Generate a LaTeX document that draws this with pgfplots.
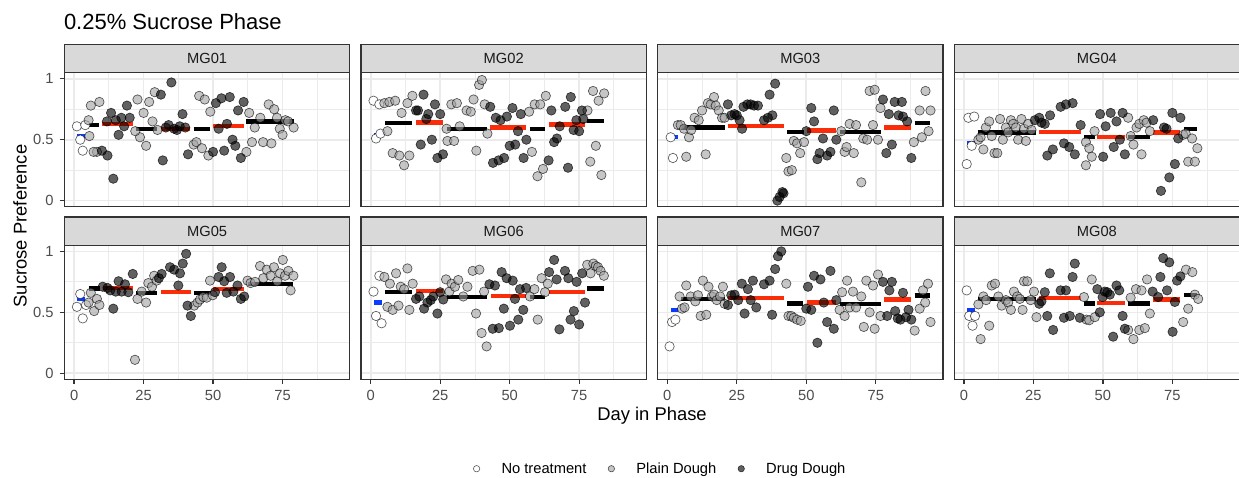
\documentclass[border=0pt]{standalone}
\usepackage{fontspec}
\setmainfont{Liberation Sans}
\usepackage{pgfplots}
\pgfplotsset{compat=1.18}
\definecolor{g10}{HTML}{1A1A1A}
\definecolor{g20}{HTML}{333333}
\definecolor{g30}{HTML}{4D4D4D}
\definecolor{g85}{HTML}{D9D9D9}
\definecolor{g92}{HTML}{EBEBEB}
\definecolor{segred}{HTML}{FA2D0A}
\definecolor{segblue}{HTML}{0A3CFF}
\definecolor{plainfill}{HTML}{A0A0A0}
\pgfplotsset{
 panel/.style={
  scale only axis, width=285.4bp, height=134bp,
  xmin=-3.5, xmax=99.2, ymin=-0.05, ymax=1.05,
  xtick={0,25,50,75}, ytick={0,0.5,1},
  minor xtick={12.5,37.5,62.5,87.5}, minor ytick={0.25,0.75},
  grid=both,
  major grid style={draw=g92, line width=1.6bp},
  minor grid style={draw=g92, line width=0.8bp},
  axis line style={draw=g20, line width=1.3bp},
  tick align=outside, tick pos=left,
  major tick length=4.6bp, minor tick length=0pt,
  xticklabels={}, yticklabels={},
  xtick style={draw=none}, ytick style={draw=none},
  /pgf/number format/assume math mode=true,
  ticklabel style={font=\fontsize{14.7bp}{17bp}\selectfont, text=g30},
  xticklabel style={anchor=north, inner sep=0pt, yshift=-6.3bp},
  yticklabel style={anchor=east, inner sep=0pt, xshift=-6.0bp},
  legend image code/.code={\draw[#1] plot coordinates {(0bp,0bp)};},
 },
 xlab/.style={xticklabels={0,25,50,75}, xtick style={draw=g20, line width=1.3bp}},
 ylab/.style={yticklabels={0,0.5,1}, ytick style={draw=g20, line width=1.3bp}},
 nt/.style={only marks, mark=*, mark size=4.7bp, mark options={draw=black, draw opacity=0.65, fill=white, line width=0.65bp}},
 pd/.style={only marks, mark=*, mark size=4.7bp, mark options={draw=black, draw opacity=0.65, fill=plainfill, fill opacity=0.6, line width=0.65bp}},
 dd/.style={only marks, mark=*, mark size=4.7bp, mark options={draw=black, draw opacity=0.7, fill=black, fill opacity=0.62, line width=0.65bp}},
}
\newcommand{\pts}[2]{\addplot[#1, forget plot] coordinates {#2};}
\newcommand{\seg}[4]{\addplot[draw=#1, line width=4.3bp, line cap=butt, no marks, forget plot] coordinates {(#2,#4) (#3,#4)};}
\newcommand{\strip}[2]{%
 \draw[fill=g85, draw=g20, line width=1.3bp] (#1.north west) rectangle ([yshift=28.4bp]#1.north east);
 \node[font=\fontsize{14.7bp}{17bp}\selectfont, text=g10] at ([yshift=14.2bp]#1.north) {#2};}
\begin{document}
\begin{tikzpicture}
\useasboundingbox (0,0) rectangle (1239bp,-478bp);
% ---------------- MG01
\begin{axis}[panel, ylab, at={(64.4bp,-206.7bp)}, anchor=south west, name=p1]
\pts{nt}{(1.0,0.61) (4.0,0.62) (2.2,0.50) (3.1,0.41)}
\pts{pd}{(5.2,0.66) (6.0,0.78) (9.1,0.81) (5.5,0.53) (8.2,0.40) (7,0.40) (22.8,0.83) (25,0.72) (27,0.81) (29,0.89) (28.2,0.65) (23.7,0.52) (25.9,0.45) (22,0.57) (30,0.58) (43,0.46) (44,0.48) (45,0.86) (47,0.83) (46,0.43) (48.3,0.37) (49,0.73) (62,0.40) (63,0.72) (64,0.48) (65,0.60) (67,0.68) (68,0.48) (70,0.79) (71,0.47) (72,0.75) (73,0.68) (74,0.59) (75,0.54) (76,0.66) (77,0.65) (79,0.60)}
\pts{dd}{(10,0.41) (12,0.37) (14.1,0.18) (13.3,0.72) (11.8,0.65) (16,0.54) (19,0.78) (18,0.61) (20,0.68) (17,0.68) (15,0.66) (31.2,0.87) (35,0.97) (31.9,0.33) (39,0.71) (38,0.61) (37,0.58) (33,0.60) (41,0.38) (34,0.62) (36,0.59) (40,0.60) (50,0.40) (51,0.80) (53,0.84) (56,0.85) (52,0.59) (55,0.63) (54,0.41) (57,0.50) (58,0.45) (59,0.74) (61,0.81) (60,0.35)}
\seg{segblue}{1.2}{4.0}{0.53}
\seg{black}{5.2}{9.0}{0.62}
\seg{segred}{10}{21.1}{0.63}
\seg{black}{22.3}{29.7}{0.585}
\seg{segred}{31.2}{41.7}{0.59}
\seg{black}{43}{49}{0.585}
\seg{segred}{50}{61}{0.615}
\seg{black}{62}{79}{0.65}
\end{axis}
% ---------------- MG02
\begin{axis}[panel, at={(361.0bp,-206.7bp)}, anchor=south west, name=p2]
\pts{nt}{(1,0.82) (3.1,0.79) (1.9,0.51) (3.5,0.55)}
\pts{pd}{(4.9,0.80) (6.7,0.81) (8.8,0.82) (6,0.57) (7.9,0.39) (10.3,0.37) (12,0.29) (13.9,0.37) (11.1,0.72) (13.2,0.80) (15,0.86) (27.3,0.59) (29,0.79) (31,0.80) (32,0.61) (27.6,0.49) (30,0.49) (34.5,0.74) (36,0.73) (37,0.83) (38,0.41) (39,0.95) (40,0.99) (41,0.79) (42,0.55) (57,0.73) (59,0.79) (61,0.79) (63,0.86) (58,0.40) (62,0.26) (60,0.20) (78,0.74) (80,0.90) (82,0.82) (84,0.88) (81,0.45) (79,0.32) (83,0.21)}
\pts{dd}{(16.3,0.74) (17,0.74) (19,0.87) (20.7,0.71) (20,0.67) (23.1,0.79) (25,0.71) (18,0.46) (22,0.50) (24,0.35) (26,0.38) (43,0.77) (45,0.68) (46.7,0.66) (49,0.69) (51,0.76) (54,0.71) (44,0.31) (46,0.33) (48,0.35) (50,0.45) (52,0.46) (53,0.57) (56,0.50) (55,0.35) (64,0.33) (65,0.74) (66,0.48) (67,0.51) (68,0.61) (70,0.77) (72,0.85) (71,0.27) (73,0.58) (74,0.66) (75,0.57) (76,0.74) (76.5,0.67)}
\seg{segblue}{1.2}{4.0}{0.54}
\seg{black}{5.1}{14.7}{0.635}
\seg{segred}{16.3}{26}{0.64}
\seg{black}{27.3}{41.7}{0.59}
\seg{segred}{43}{56}{0.60}
\seg{black}{57.3}{62.7}{0.59}
\seg{segred}{64.2}{77}{0.625}
\seg{black}{78}{84}{0.655}
\end{axis}
% ---------------- MG03
\begin{axis}[panel, at={(657.6bp,-206.7bp)}, anchor=south west, name=p3]
\pts{nt}{(1.2,0.52) (2,0.35)}
\pts{pd}{(3.8,0.62) (4.8,0.62) (6,0.59) (6.8,0.36) (7.8,0.52) (8.6,0.58) (9.8,0.68) (11.3,0.66) (12.5,0.74) (13.8,0.38) (14.6,0.80) (15.6,0.79) (16.8,0.85) (17.4,0.78) (18.5,0.74) (19.7,0.68) (20.6,0.68) (42.8,0.35) (43.6,0.24) (44.8,0.25) (45.5,0.49) (46.7,0.47) (47.8,0.39) (49.2,0.48) (62.6,0.57) (63.8,0.40) (64.5,0.44) (65.6,0.63) (67.1,0.39) (67.9,0.62) (69.8,0.15) (70.5,0.51) (71.9,0.50) (72.8,0.90) (74.6,0.91) (74,0.62) (75.8,0.50) (76.7,0.76) (88.7,0.48) (90.8,0.74) (91.6,0.52) (92.9,0.90) (94,0.57) (94.7,0.74)}
\pts{dd}{(21.8,0.79) (23,0.70) (24.2,0.71) (25,0.70) (26,0.66) (26.9,0.59) (27.4,0.77) (28.8,0.79) (30,0.79) (31.2,0.78) (32.6,0.78) (34.8,0.66) (36.2,0.68) (37.8,0.70) (36.8,0.87) (38.8,0.96) (39.6,0.00) (40.4,0.03) (41.4,0.07) (41.8,0.06) (50,0.57) (51.8,0.76) (52.8,0.65) (54,0.34) (54.8,0.39) (56,0.51) (57.5,0.37) (58.7,0.40) (59.9,0.74) (60.8,0.50) (77.6,0.83) (78.8,0.39) (79.7,0.71) (80.8,0.46) (81.8,0.81) (83.2,0.70) (84.4,0.81) (84.8,0.69) (86.3,0.65) (87.8,0.35)}
\seg{segblue}{1.2}{3.8}{0.52}
\seg{black}{5}{20.9}{0.60}
\seg{segred}{22}{42}{0.61}
\seg{black}{43.2}{49.2}{0.565}
\seg{segred}{50.1}{60.8}{0.575}
\seg{black}{62}{77}{0.565}
\seg{segred}{78}{87.8}{0.60}
\seg{black}{89}{94.7}{0.635}
\end{axis}
% ---------------- MG04
\begin{axis}[panel, at={(954.2bp,-206.7bp)}, anchor=south west, name=p4]
\pts{nt}{(1,0.30) (1.6,0.68) (3.7,0.69) (2.8,0.45)}
\pts{pd}{(5.2,0.50) (6,0.52) (7,0.42) (7.9,0.60) (9.1,0.65) (10,0.53) (11,0.39) (12,0.39) (13,0.67) (14,0.50) (15.1,0.60) (15.9,0.56) (16.9,0.66) (17.7,0.63) (18.7,0.60) (19.5,0.50) (20.7,0.67) (21.6,0.59) (22.3,0.49) (23.1,0.63) (24.3,0.58) (43.9,0.48) (45.1,0.43) (46,0.36) (47,0.57) (43.9,0.29) (59.1,0.68) (60,0.53) (61,0.46) (62.1,0.60) (63.1,0.63) (63.9,0.38) (64.7,0.66) (65.7,0.64) (66.9,0.57) (78.9,0.54) (79.8,0.55) (80.7,0.32) (82.1,0.51) (83.1,0.32) (84,0.43)}
\pts{dd}{(25.5,0.66) (27.1,0.68) (27.9,0.64) (29.1,0.63) (31,0.70) (30,0.37) (32,0.42) (34.8,0.77) (36,0.47) (36.7,0.79) (37.9,0.44) (39.1,0.80) (39.9,0.38) (42,0.62) (49,0.71) (50.1,0.36) (51,0.61) (52.8,0.72) (53.9,0.44) (54.9,0.65) (56.1,0.50) (57.1,0.72) (57.9,0.38) (68.1,0.66) (70.9,0.08) (72,0.60) (72.9,0.59) (73.9,0.19) (75,0.72) (75.9,0.30) (77.1,0.51) (77.9,0.68)}
\seg{segblue}{1.2}{4}{0.47}
\seg{black}{5.2}{25.9}{0.56}
\seg{segred}{27.1}{42}{0.565}
\seg{black}{43.2}{47.1}{0.52}
\seg{segred}{48}{57.9}{0.525}
\seg{black}{59.1}{66.9}{0.52}
\seg{segred}{68.1}{77.9}{0.56}
\seg{black}{79.1}{84}{0.59}
\end{axis}
% ---------------- MG05
\begin{axis}[panel, xlab, ylab, at={(64.4bp,-379.3bp)}, anchor=south west, name=p5]
\pts{nt}{(1,0.545) (2.2,0.65) (3.1,0.45) (4.3,0.56)}
\pts{pd}{(5.2,0.58) (6,0.66) (7.2,0.51) (8.2,0.61) (9.1,0.56) (21.9,0.11) (22.8,0.61) (24.3,0.67) (25.9,0.58) (26.7,0.74) (28,0.71) (28.8,0.80) (29.7,0.76) (43.2,0.555) (44.4,0.58) (45.3,0.605) (46.5,0.625) (47.7,0.62) (48.9,0.76) (49.9,0.64) (62.4,0.76) (63.5,0.74) (65.1,0.75) (66.9,0.88) (68.1,0.78) (69.3,0.85) (70.7,0.80) (71.9,0.87) (73.1,0.755) (74.1,0.82) (75.1,0.93) (75.9,0.80) (77.1,0.84) (77.9,0.68) (78.9,0.80)}
\pts{dd}{(10.3,0.71) (12,0.70) (14.1,0.53) (16,0.755) (17.1,0.67) (18.3,0.73) (19.5,0.665) (21.1,0.815) (13,0.68) (15,0.67) (31.5,0.815) (34.5,0.87) (36,0.85) (37.5,0.72) (38.1,0.82) (39.1,0.90) (40.3,0.98) (40.8,0.555) (42,0.47) (30.5,0.78) (50.7,0.665) (52,0.79) (53.1,0.87) (54,0.755) (54.9,0.66) (56.1,0.79) (57.3,0.67) (58.8,0.72) (60,0.61) (61.2,0.63)}
\seg{segblue}{1.2}{4}{0.61}
\seg{black}{5.2}{9.4}{0.695}
\seg{segred}{10.3}{21.1}{0.70}
\seg{black}{22.3}{29.7}{0.66}
\seg{segred}{31.2}{42}{0.667}
\seg{black}{43.2}{49.2}{0.66}
\seg{segred}{50.1}{61}{0.69}
\seg{black}{62.4}{78.9}{0.73}
\end{axis}
% ---------------- MG06
\begin{axis}[panel, xlab, at={(361.0bp,-379.3bp)}, anchor=south west, name=p6]
\pts{nt}{(1,0.67) (1.9,0.47) (3.1,0.80) (3.9,0.41)}
\pts{pd}{(4.9,0.79) (6,0.545) (6.9,0.735) (7.9,0.52) (9.1,0.82) (10,0.555) (10.8,0.71) (12,0.69) (13.2,0.86) (13.9,0.52) (15.1,0.735) (27.1,0.77) (28.3,0.67) (29.1,0.735) (30.3,0.71) (31.5,0.765) (33.3,0.63) (34.8,0.71) (36.7,0.84) (37.9,0.49) (39.1,0.85) (39.9,0.33) (40.8,0.67) (41.7,0.22) (57.3,0.63) (58.9,0.69) (60.1,0.44) (61.5,0.78) (62.7,0.665) (63.7,0.735) (77.9,0.89) (79.1,0.82) (80.1,0.90) (81,0.88) (81.8,0.87) (82.7,0.84) (83.9,0.80)}
\pts{dd}{(16.3,0.61) (17.5,0.63) (19.2,0.53) (20.4,0.58) (21.6,0.60) (22.5,0.63) (24,0.49) (25,0.665) (26.1,0.605) (42.7,0.73) (43.9,0.365) (44.7,0.72) (46.1,0.37) (47.1,0.83) (47.9,0.53) (48.9,0.78) (50.1,0.39) (51.1,0.76) (51.9,0.61) (53.1,0.44) (53.7,0.69) (54.9,0.52) (55.9,0.70) (64.2,0.83) (66,0.93) (66.9,0.77) (67.9,0.36) (69.9,0.84) (71.1,0.78) (71.9,0.44) (73.1,0.51) (74.1,0.75) (75,0.40) (76.1,0.82) (77.1,0.58)}
\seg{segblue}{1.2}{3.9}{0.58}
\seg{black}{5.1}{14.7}{0.665}
\seg{segred}{16.3}{25.9}{0.673}
\seg{black}{27.3}{41.7}{0.627}
\seg{segred}{43.2}{55.9}{0.632}
\seg{black}{57.3}{62.7}{0.627}
\seg{segred}{64.2}{77.1}{0.665}
\seg{black}{78}{83.9}{0.695}
\end{axis}
% ---------------- MG07
\begin{axis}[panel, xlab, at={(657.6bp,-379.3bp)}, anchor=south west, name=p7]
\pts{nt}{(0.8,0.22) (1.7,0.42) (2.9,0.44)}
\pts{pd}{(4.4,0.63) (5.3,0.53) (6.2,0.54) (6.8,0.72) (8.4,0.63) (10.1,0.59) (11,0.64) (12,0.47) (12.8,0.76) (14,0.48) (14.8,0.71) (16,0.63) (16.8,0.645) (17.8,0.60) (19,0.63) (20,0.71) (20.6,0.57) (42.8,0.735) (43.6,0.47) (44.6,0.47) (45.5,0.455) (46.7,0.44) (48,0.43) (62,0.52) (62.9,0.665) (63.8,0.47) (64.7,0.76) (65.6,0.54) (66.8,0.67) (67.9,0.54) (69.8,0.63) (70.7,0.38) (71.6,0.76) (72.8,0.50) (74,0.72) (74.6,0.365) (75.8,0.81) (76.7,0.47) (89,0.35) (90.8,0.53) (92,0.68) (92.8,0.58) (93.8,0.735) (94.7,0.42)}
\pts{dd}{(21.8,0.56) (23,0.64) (24.2,0.645) (25.5,0.60) (26.8,0.735) (27.8,0.49) (29,0.69) (30,0.60) (30.8,0.76) (32,0.54) (34.8,0.73) (36.8,0.76) (37.7,0.48) (38.8,0.855) (39.8,0.96) (41,1.0) (50,0.53) (50.6,0.71) (51.8,0.52) (52.8,0.80) (54,0.25) (55.1,0.77) (56.3,0.58) (57.5,0.42) (58.7,0.84) (59.9,0.365) (60.8,0.60) (77.6,0.75) (79.1,0.47) (79.9,0.68) (80.8,0.75) (82,0.51) (82.9,0.45) (83.9,0.44) (84.8,0.66) (85.9,0.46) (86.8,0.52) (87.8,0.44)}
\seg{segblue}{1.2}{3.8}{0.52}
\seg{black}{5}{20.9}{0.61}
\seg{segred}{22}{42}{0.615}
\seg{black}{43.2}{48.8}{0.572}
\seg{segred}{50.1}{60.8}{0.58}
\seg{black}{62}{77}{0.57}
\seg{segred}{78}{87.8}{0.605}
\seg{black}{89}{94.7}{0.638}
\end{axis}
% ---------------- MG08
\begin{axis}[panel, xlab, at={(954.2bp,-379.3bp)}, anchor=south west, name=p8,
  legend columns=3,
  legend style={at={(-1.6847,-0.6672)}, anchor=west, draw=none, fill=none, inner sep=0pt, outer sep=0pt,
    column sep=21.7bp, font=\fontsize{14.7bp}{17bp}\selectfont, text=black, nodes={inner sep=0pt}}]
\addlegendimage{only marks, mark=*, mark size=3.2bp, mark options={draw=black, draw opacity=0.65, fill=white, line width=0.6bp}}
\addlegendentry{No treatment}
\addlegendimage{only marks, mark=*, mark size=3.2bp, mark options={draw=black, draw opacity=0.65, fill=plainfill, fill opacity=0.6, line width=0.6bp}}
\addlegendentry{Plain Dough}
\addlegendimage{only marks, mark=*, mark size=3.2bp, mark options={draw=black, draw opacity=0.7, fill=black, fill opacity=0.62, line width=0.6bp}}
\addlegendentry{Drug Dough}
\pts{nt}{(1,0.68) (1.9,0.47) (3.1,0.39) (4,0.47)}
\pts{pd}{(5.2,0.565) (6,0.28) (7,0.63) (8,0.60) (9.1,0.39) (10,0.72) (11.2,0.735) (12.4,0.63) (13.6,0.555) (15.1,0.60) (15.9,0.58) (16.9,0.52) (18,0.67) (19.2,0.63) (20.1,0.61) (21.1,0.52) (21.6,0.755) (22.8,0.755) (24,0.60) (25.2,0.67) (26.1,0.46) (43.2,0.625) (44.1,0.44) (45.1,0.435) (46,0.77) (47.1,0.46) (59.1,0.355) (60,0.62) (61,0.28) (61.9,0.69) (63.1,0.355) (63.9,0.68) (65.1,0.37) (65.9,0.77) (66.9,0.49) (78.9,0.42) (79.9,0.85) (80.7,0.53) (82.2,0.83) (83.1,0.645) (84.3,0.61)}
\pts{dd}{(27.1,0.57) (27.9,0.59) (29.1,0.665) (30,0.47) (30.9,0.82) (32.1,0.355) (34.8,0.68) (36,0.455) (36.7,0.68) (38.1,0.47) (39.1,0.79) (39.9,0.90) (41.7,0.455) (48,0.69) (48.9,0.50) (49.9,0.625) (50.7,0.67) (51.6,0.665) (52.5,0.645) (53.7,0.30) (54.9,0.72) (55.9,0.68) (57.1,0.47) (57.9,0.365) (67.9,0.67) (69.9,0.625) (70.7,0.79) (71.7,0.945) (73.1,0.68) (73.9,0.91) (75.1,0.34) (75.9,0.585) (76.7,0.76) (77.9,0.795)}
\seg{segblue}{1.2}{4}{0.52}
\seg{black}{5.2}{25.9}{0.61}
\seg{segred}{27.1}{42}{0.618}
\seg{black}{43.2}{47.1}{0.572}
\seg{segred}{48}{57.9}{0.578}
\seg{black}{59.1}{66.9}{0.572}
\seg{segred}{68.1}{77.9}{0.605}
\seg{black}{79.1}{84}{0.64}
\end{axis}
% strips
\strip{p1}{MG01}\strip{p2}{MG02}\strip{p3}{MG03}\strip{p4}{MG04}
\strip{p5}{MG05}\strip{p6}{MG06}\strip{p7}{MG07}\strip{p8}{MG08}
% titles
\node[anchor=base west, inner sep=0pt, font=\fontsize{22bp}{26bp}\selectfont] at (63.8bp,-29.3bp) {0.25\% Sucrose Phase};
\node[anchor=base, inner sep=0pt, font=\fontsize{18.4bp}{22bp}\selectfont] at (652bp,-420.5bp) {Day in Phase};
\node[anchor=base, inner sep=0pt, rotate=90, font=\fontsize{18.4bp}{22bp}\selectfont] at (26.5bp,-226bp) {Sucrose Preference};
\end{tikzpicture}
\end{document}
